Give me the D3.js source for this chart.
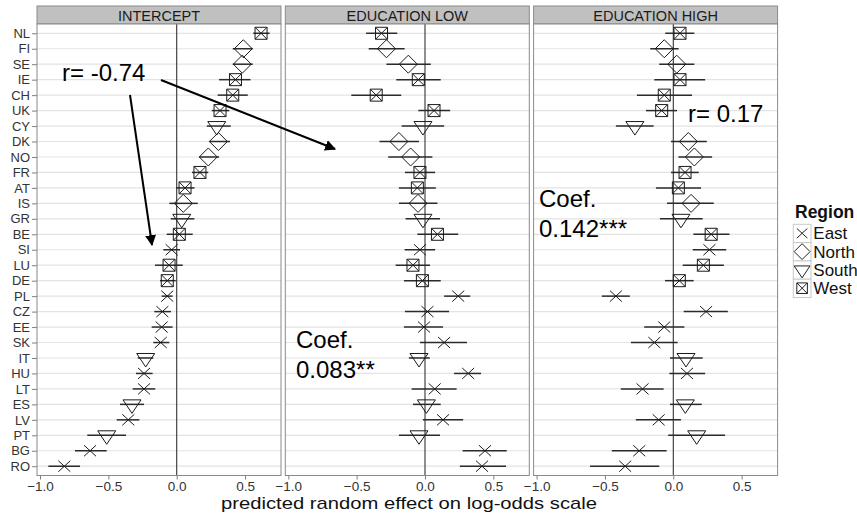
<!DOCTYPE html>
<html><head><meta charset="utf-8">
<script src="https://cdn.jsdelivr.net/npm/d3@7"></script>
<style>
html,body{margin:0;padding:0;background:#fff;}
text{font-family:"Liberation Sans",Arial,Helvetica,sans-serif;}
</style></head>
<body><svg id="chart" width="857" height="515"></svg>
<script>
const countries = ["NL","FI","SE","IE","CH","UK","CY","DK","NO","FR","AT","IS","GR","BE","SI","LU","DE","PL","CZ","EE","SK","IT","HU","LT","ES","LV","PT","BG","RO"];
const regions = ["West","North","North","West","West","West","South","North","North","West","West","North","South","West","East","West","West","East","East","East","East","South","East","East","South","East","South","East","East"];
const panelTitles = ["INTERCEPT","EDUCATION LOW","EDUCATION HIGH"];
const regionNames = ["East","North","South","West"];
const xTicks = [-1.0,-0.5,0.0,0.5];

const interceptEst = [0.617,0.487,0.48,0.43,0.41,0.317,0.293,0.305,0.231,0.17,0.061,0.048,0.037,0.019,-0.037,-0.056,-0.069,-0.069,-0.105,-0.11,-0.117,-0.227,-0.239,-0.239,-0.327,-0.354,-0.512,-0.634,-0.822];
const interceptLo  = [0.56,0.41,0.41,0.31,0.30,0.256,0.22,0.24,0.165,0.112,-0.005,-0.054,-0.044,-0.073,-0.098,-0.159,-0.122,-0.11,-0.164,-0.183,-0.171,-0.285,-0.298,-0.322,-0.415,-0.439,-0.654,-0.744,-0.939];
const interceptHi  = [0.68,0.556,0.556,0.54,0.52,0.385,0.395,0.39,0.31,0.231,0.13,0.154,0.129,0.117,0.024,0.044,-0.007,-0.03,-0.042,-0.03,-0.054,-0.171,-0.176,-0.157,-0.239,-0.273,-0.371,-0.512,-0.707];

const eduLowEst = [-0.318,-0.282,-0.122,-0.049,-0.357,0.066,-0.015,-0.191,-0.105,-0.037,-0.056,-0.051,-0.015,0.091,-0.037,-0.088,-0.019,0.243,0.018,-0.007,0.14,-0.044,0.316,0.071,0.01,0.132,-0.044,0.439,0.417];
const eduLowLo  = [-0.431,-0.412,-0.282,-0.21,-0.539,-0.049,-0.171,-0.333,-0.269,-0.147,-0.191,-0.191,-0.142,-0.056,-0.149,-0.215,-0.154,0.14,-0.147,-0.154,-0.037,-0.118,0.213,-0.098,-0.088,-0.015,-0.191,0.275,0.255];
const eduLowHi  = [-0.203,-0.149,0.042,0.115,-0.174,0.184,0.14,-0.044,0.054,0.074,0.079,0.091,0.11,0.243,0.074,0.037,0.115,0.331,0.176,0.132,0.307,0.035,0.41,0.231,0.115,0.279,0.11,0.598,0.593];

const eduHighEst = [0.049,-0.066,0.025,0.049,-0.066,-0.085,-0.281,0.11,0.154,0.086,0.037,0.13,0.056,0.277,0.264,0.22,0.044,-0.42,0.24,-0.066,-0.139,0.093,0.1,-0.225,0.088,-0.107,0.171,-0.249,-0.352];
const eduHighLo  = [-0.059,-0.169,-0.103,-0.139,-0.266,-0.2,-0.42,-0.017,0.037,-0.017,-0.127,-0.046,-0.098,0.147,0.142,0.069,-0.061,-0.523,0.076,-0.213,-0.31,-0.024,-0.029,-0.384,-0.024,-0.274,-0.037,-0.45,-0.609];
const eduHighHi  = [0.154,0.039,0.154,0.233,0.137,0.027,-0.144,0.245,0.284,0.186,0.203,0.296,0.215,0.411,0.387,0.37,0.149,-0.318,0.399,0.081,0.032,0.215,0.233,-0.071,0.208,0.056,0.379,-0.049,-0.103];

const panelEst = [interceptEst, eduLowEst, eduHighEst];
const panelLo = [interceptLo, eduLowLo, eduHighLo];
const panelHi = [interceptHi, eduLowHi, eduHighHi];

const svg = d3.select("#chart");
const panelW = 244, panelStep = 248.3, panelX0 = 37;
const plotTop = 24, plotBottom = 475.5, stripTop = 6;
const y = d3.scalePoint().domain(countries).range([plotTop, plotBottom]).padding(0.6);

const symbolPath = {
  East: "M-6,-5.5L6,5.5M-6,5.5L6,-5.5",
  North: "M0,-9L9,0L0,9L-9,0Z",
  South: "M-9,-4.5L9,-4.5L0,9Z",
  West: "M-6,-6H6V6H-6Z M-6,-6L6,6M-6,6L6,-6"
};

panelTitles.forEach((title, p) => {
  const x0 = panelX0 + p * panelStep;
  const x = d3.scaleLinear().domain([-1.022, 0.763]).range([x0, x0 + panelW]);
  const g = svg.append("g");
  g.append("rect").attr("x", x0).attr("y", stripTop).attr("width", panelW).attr("height", plotTop - stripTop)
    .attr("fill", "#c0c0c0").attr("stroke", "#8a8a8a").attr("stroke-width", 1);
  g.append("text").attr("x", x0 + panelW / 2).attr("y", stripTop + 14.5).attr("text-anchor", "middle")
    .attr("font-size", 14.5).attr("fill", "#1a1a1a").text(title);
  g.append("rect").attr("x", x0).attr("y", plotTop).attr("width", panelW).attr("height", plotBottom - plotTop).attr("fill", "#fff");
  g.selectAll("line.grid").data(countries).join("line").attr("class", "grid")
    .attr("x1", x0).attr("x2", x0 + panelW).attr("y1", d => y(d)).attr("y2", d => y(d))
    .attr("stroke", "#e3e3e3").attr("stroke-width", 1.2);
  g.append("line").attr("x1", x(0)).attr("x2", x(0)).attr("y1", plotTop).attr("y2", plotBottom)
    .attr("stroke", "#333").attr("stroke-width", 1.1);
  const ax = d3.axisBottom(x).tickValues(xTicks).tickFormat(d3.format(".1f")).tickSize(4).tickSizeOuter(0);
  const axG = g.append("g").attr("transform", `translate(0,${plotBottom})`).call(ax);
  axG.select(".domain").remove();
  axG.selectAll(".tick line").attr("stroke", "#7f7f7f");
  axG.selectAll(".tick text").attr("font-size", 13.5).attr("fill", "#333").attr("y", 15.5).attr("dy", 0)
    .style("font-family", '"Liberation Sans",Arial,sans-serif');
  if (p === 0) {
    const ay = d3.axisLeft(y).tickSize(5).tickSizeOuter(0);
    const ayG = g.append("g").attr("transform", `translate(${x0},0)`).call(ay);
    ayG.select(".domain").remove();
    ayG.selectAll(".tick line").attr("stroke", "#7f7f7f");
    ayG.selectAll(".tick text").attr("font-size", 13).attr("fill", "#333").attr("x", -7)
      .style("font-family", '"Liberation Sans",Arial,sans-serif');
  }
  const est = panelEst[p], lo = panelLo[p], hi = panelHi[p];
  g.selectAll("line.err").data(countries).join("line").attr("class", "err")
    .attr("x1", (d, i) => x(lo[i])).attr("x2", (d, i) => x(hi[i]))
    .attr("y1", d => y(d)).attr("y2", d => y(d))
    .attr("stroke", "#2b2b2b").attr("stroke-width", 1.5);
  g.selectAll("path.pt").data(countries).join("path").attr("class", "pt")
    .attr("transform", (d, i) => `translate(${x(est[i])},${y(d)})`)
    .attr("d", (d, i) => symbolPath[regions[i]])
    .attr("fill", "none").attr("stroke", "#1a1a1a").attr("stroke-width", 1);
  g.append("rect").attr("x", x0).attr("y", plotTop).attr("width", panelW).attr("height", plotBottom - plotTop)
    .attr("fill", "none").attr("stroke", "#8a8a8a").attr("stroke-width", 1);
});

svg.append("text").attr("x", 409).attr("y", 508.5).attr("text-anchor", "middle").attr("font-size", 17)
  .attr("textLength", 376).attr("lengthAdjust", "spacingAndGlyphs")
  .attr("fill", "#111").text("predicted random effect on log-odds scale");

const lg = svg.append("g");
lg.append("text").attr("x", 795).attr("y", 218).attr("font-size", 17.5).attr("font-weight", "bold").attr("fill", "#111").text("Region");
regionNames.forEach((r, i) => {
  const ky = 224.3 + i * 18.3;
  lg.append("rect").attr("x", 793.3).attr("y", ky).attr("width", 17.7).attr("height", 18.3)
    .attr("fill", "#fff").attr("stroke", "#c8c8c8").attr("stroke-width", 1);
  lg.append("path").attr("transform", `translate(${802.1},${ky + 9}) scale(0.88)`).attr("d", symbolPath[r])
    .attr("fill", "none").attr("stroke", "#1a1a1a").attr("stroke-width", 1.1);
  lg.append("text").attr("x", 813.3).attr("y", ky + 15).attr("font-size", 17).attr("fill", "#111").text(r);
});

const ann = svg.append("g").attr("font-size", 24).attr("fill", "#000");
ann.append("text").attr("x", 62).attr("y", 81).text("r= -0.74");
ann.append("text").attr("x", 296).attr("y", 348).text("Coef.");
ann.append("text").attr("x", 296).attr("y", 378).text("0.083**");
ann.append("text").attr("x", 688).attr("y", 122).text("r= 0.17");
ann.append("text").attr("x", 539).attr("y", 207).text("Coef.");
ann.append("text").attr("x", 539).attr("y", 237).text("0.142***");

const defs = svg.append("defs");
defs.append("marker").attr("id", "ah").attr("viewBox", "0 0 10 10").attr("refX", 9).attr("refY", 5)
  .attr("markerWidth", 5.5).attr("markerHeight", 5.5).attr("orient", "auto")
  .append("path").attr("d", "M0,0L10,5L0,10Z").attr("fill", "#000");
svg.append("line").attr("x1", 130).attr("y1", 95).attr("x2", 152).attr("y2", 245)
  .attr("stroke", "#000").attr("stroke-width", 2).attr("marker-end", "url(#ah)");
svg.append("line").attr("x1", 161).attr("y1", 80).attr("x2", 335).attr("y2", 149)
  .attr("stroke", "#000").attr("stroke-width", 2).attr("marker-end", "url(#ah)");
</script></body></html>
